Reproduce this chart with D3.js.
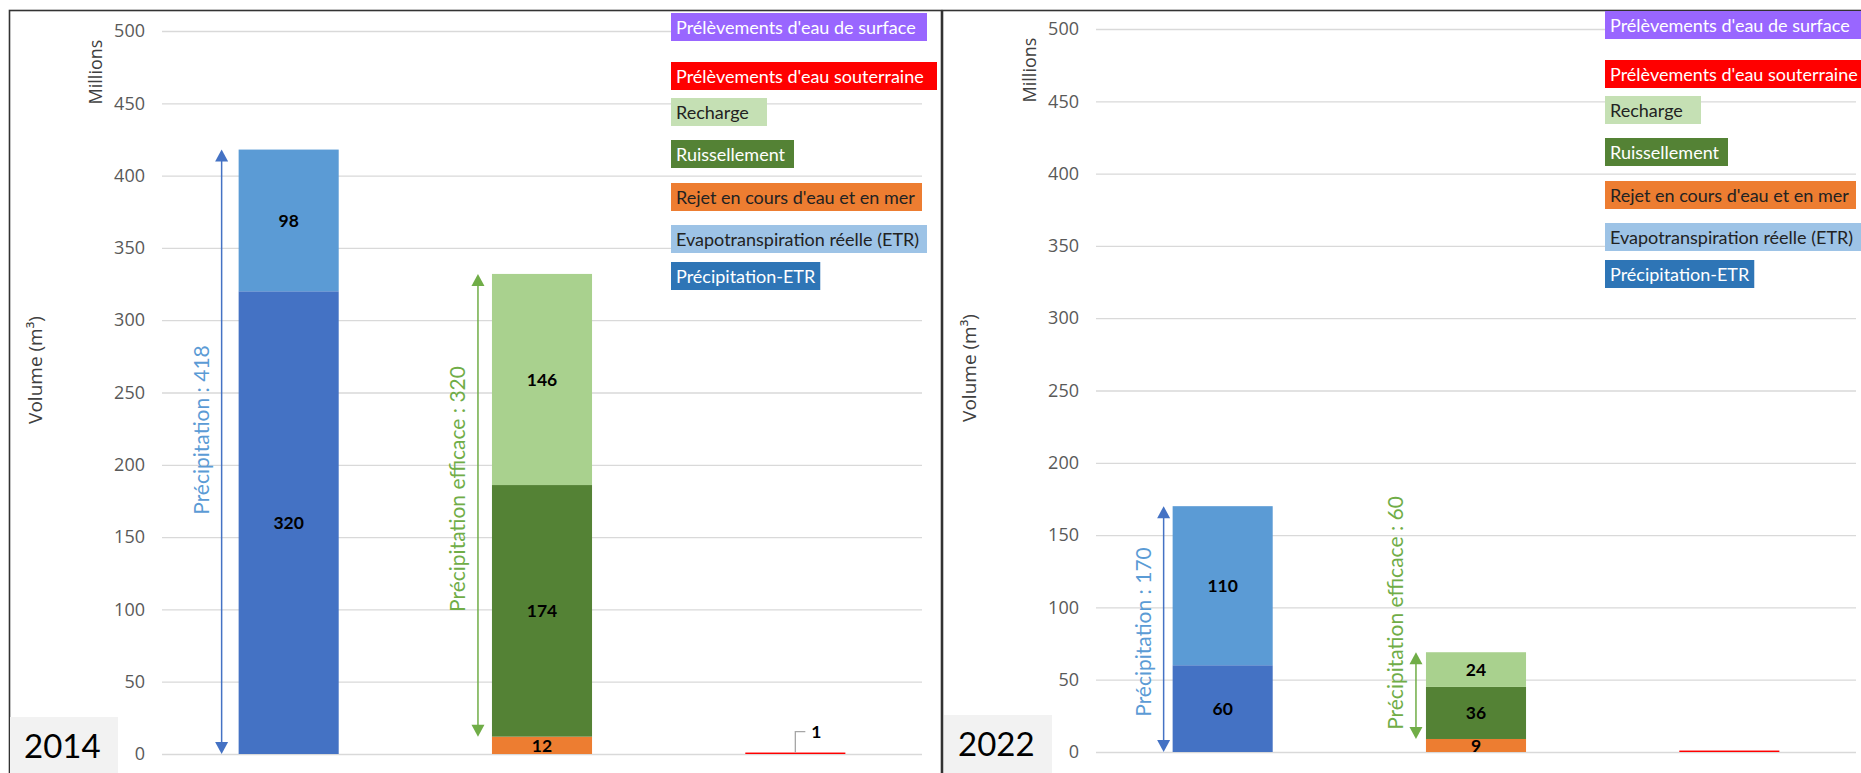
<!DOCTYPE html>
<html>
<head>
<meta charset="utf-8">
<script src="https://cdn.jsdelivr.net/npm/d3@7"></script>
<style>
  body { margin: 0; background: #fff; }
</style>
</head>
<body>
<script>
// Bilan hydrique 2014 / 2022 - two panels side by side

var width = 1861;
var height = 773;

// data (millions de m3)
var categories = ["Précipitation", "Précipitation efficace", "Prélèvements"];
var years = ["2014", "2022"];
var precipEtr = [320, 60];          // Précipitation-ETR
var etr = [98, 110];                // Evapotranspiration réelle
var rejet = [12, 9];                // Rejet en cours d'eau et en mer
var ruissellement = [174, 36];
var recharge = [146, 24];
var prelevSouterraine = [1, 1];
var prelevSurface = [0, 0];
var precipTotal = [418, 170];
var precipEfficace = [320, 60];
var souterraineLabelled = [true, false];
var yTicks = [0, 50, 100, 150, 200, 250, 300, 350, 400, 450, 500];

var legendLabels = ["Prélèvements d'eau de surface", "Prélèvements d'eau souterraine", "Recharge",
  "Ruissellement", "Rejet en cours d'eau et en mer", "Evapotranspiration réelle (ETR)", "Précipitation-ETR"];
var legendColors = ["#9966ff", "#ff0000", "#c5e0b4", "#548235", "#ed7d31", "#9dc3e6", "#2e75b6"];
var legendTextColors = ["#fff", "#fff", "#222", "#fff", "#222", "#222", "#fff"];
var legendY = [13, 62, 98, 140, 183, 225, 262];
var legendW = [256, 266, 96, 123, 251, 256, 137];

// per panel layout
var panels = [
  {dx: 0, dy: 0, gapPrecip: 17, gapEff: 14, precipLabelY: 430, effLabelY: 489},
  {dx: 934, dy: -2, gapPrecip: 9, gapEff: 10, precipLabelY: 634, effLabelY: 615}
];

var svg = d3.select("body").append("svg")
  .attr("width", width)
  .attr("height", height);

var yScale = d3.scaleLinear().domain([0, 500]).range([754, 31]);
var xScale = d3.scaleBand().domain(categories).range([162, 922])
  .paddingInner(0.605).paddingOuter(0.3025);
var bw = xScale.bandwidth();

// panel frames
svg.append("rect").attr("x", 9.5).attr("y", 10.5).attr("width", 932).attr("height", 800)
  .attr("fill", "none").attr("stroke", "#333").attr("stroke-width", 1.6);
svg.append("rect").attr("x", 942.5).attr("y", 10.5).attr("width", 960).attr("height", 800)
  .attr("fill", "none").attr("stroke", "#333").attr("stroke-width", 1.6);

function arrow(g, x, yTop, yBot, color) {
  g.append("line").attr("x1", x).attr("x2", x).attr("y1", yTop + 8).attr("y2", yBot - 8)
    .attr("stroke", color).attr("stroke-width", 1.5);
  g.append("path").attr("d", "M" + x + "," + yTop + "L" + (x - 6.5) + "," + (yTop + 12) + "L" + (x + 6.5) + "," + (yTop + 12) + "Z")
    .attr("fill", color);
  g.append("path").attr("d", "M" + x + "," + yBot + "L" + (x - 6.5) + "," + (yBot - 12) + "L" + (x + 6.5) + "," + (yBot - 12) + "Z")
    .attr("fill", color);
}

function drawPanel(i) {
  var p = panels[i];
  var g = svg.append("g").attr("transform", "translate(" + p.dx + "," + p.dy + ")");

  // gridlines + tick labels
  g.append("g")
    .attr("transform", "translate(162,0)")
    .call(d3.axisLeft(yScale).tickValues(yTicks).tickSize(-760).tickPadding(17))
    .call(function(a) { a.select(".domain").remove(); })
    .call(function(a) { a.selectAll("line").attr("stroke", "#d9d9d9").attr("stroke-width", 1.3); })
    .call(function(a) {
      a.selectAll("text").attr("font-family", "'Open Sans', sans-serif")
        .attr("font-size", 18).attr("fill", "#595959");
    });

  g.append("text")
    .attr("transform", "translate(95,72) rotate(-90)")
    .attr("text-anchor", "middle").attr("dominant-baseline", "central")
    .attr("font-family", "'Open Sans', sans-serif").attr("font-size", 18).attr("fill", "#404040")
    .text("Millions");
  g.append("text")
    .attr("transform", "translate(35,370) rotate(-90)")
    .attr("text-anchor", "middle").attr("dominant-baseline", "central")
    .attr("font-family", "'Open Sans', sans-serif").attr("font-size", 19).attr("fill", "#404040")
    .text("Volume (m³)");

  // stacked bars
  var stacks = [
    [{v: precipEtr[i], fill: "#4472c4"}, {v: etr[i], fill: "#5b9bd5"}],
    [{v: rejet[i], fill: "#ed7d31"}, {v: ruissellement[i], fill: "#548235"}, {v: recharge[i], fill: "#a9d18e"}],
    [{v: prelevSouterraine[i], fill: "#ff0000"}, {v: prelevSurface[i], fill: "#9966ff"}]
  ];
  var segs = [];
  stacks.forEach(function(s, k) {
    var acc = 0;
    s.forEach(function(d) {
      segs.push({cat: categories[k], y0: acc, y1: acc + d.v, v: d.v, fill: d.fill, bar: k});
      acc += d.v;
    });
  });

  g.selectAll("rect.seg")
    .data(segs.filter(function(d) { return d.v > 0; }))
    .enter().append("rect")
    .attr("class", "seg")
    .attr("x", function(d) { return xScale(d.cat); })
    .attr("width", bw)
    .attr("y", function(d) { return yScale(d.y1); })
    .attr("height", function(d) { return yScale(d.y0) - yScale(d.y1); })
    .attr("fill", function(d) { return d.fill; });

  g.selectAll("text.val")
    .data(segs.filter(function(d) { return d.v >= 5; }))
    .enter().append("text")
    .attr("class", "val")
    .attr("x", function(d) { return xScale(d.cat) + bw / 2; })
    .attr("y", function(d) { return yScale((d.y0 + d.y1) / 2); })
    .attr("text-anchor", "middle").attr("dominant-baseline", "central")
    .attr("font-family", "Lato, sans-serif").attr("font-weight", "bold").attr("font-size", 17.5)
    .attr("fill", "#000")
    .text(function(d) { return d.v; });

  // leader label for the small groundwater withdrawal
  if (souterraineLabelled[i]) {
    var cx = xScale(categories[2]) + bw / 2;
    var ly = yScale(prelevSouterraine[i]);
    g.append("path")
      .attr("d", "M" + cx + "," + ly + "V" + (ly - 21) + "H" + (cx + 10))
      .attr("fill", "none").attr("stroke", "#a6a6a6").attr("stroke-width", 1.3);
    g.append("text")
      .attr("x", cx + 16).attr("y", ly - 21)
      .attr("dominant-baseline", "central")
      .attr("font-family", "Lato, sans-serif").attr("font-weight", "bold").attr("font-size", 17.5)
      .text(prelevSouterraine[i]);
  }

  // précipitation arrow
  var ax1 = xScale(categories[0]) - p.gapPrecip;
  arrow(g, ax1, yScale(precipTotal[i]), yScale(0), "#4472c4");
  g.append("text")
    .attr("transform", "translate(" + (ax1 - 21) + "," + p.precipLabelY + ") rotate(-90)")
    .attr("text-anchor", "middle").attr("dominant-baseline", "central")
    .attr("font-family", "Lato, sans-serif").attr("font-size", 21).attr("fill", "#5b9bd5")
    .text("Précipitation : " + precipTotal[i]);

  // précipitation efficace arrow
  var ax2 = xScale(categories[1]) - p.gapEff;
  arrow(g, ax2, yScale(rejet[i] + precipEfficace[i]), yScale(rejet[i]), "#70ad47");
  g.append("text")
    .attr("transform", "translate(" + (ax2 - 21) + "," + p.effLabelY + ") rotate(-90)")
    .attr("text-anchor", "middle").attr("dominant-baseline", "central")
    .attr("font-family", "Lato, sans-serif").attr("font-size", 21).attr("fill", "#70ad47")
    .text("Précipitation efficace : " + precipEfficace[i]);

  // legend text boxes
  var leg = g.selectAll("g.leg")
    .data(legendLabels)
    .enter().append("g")
    .attr("class", "leg")
    .attr("transform", function(d, k) { return "translate(671," + legendY[k] + ")"; });
  var boxes = leg.append("rect")
    .attr("height", 28)
    .attr("fill", function(d, k) { return legendColors[k]; });
  var labels = leg.append("text")
    .attr("x", 5).attr("y", 14)
    .attr("dominant-baseline", "central")
    .attr("font-family", "Lato, sans-serif").attr("font-size", 18)
    .attr("fill", function(d, k) { return legendTextColors[k]; })
    .text(function(d) { return d; });
  // widen a box if its text would spill over
  boxes.attr("width", function(d, k) {
    var tw = labels.nodes()[k].getComputedTextLength();
    return Math.max(legendW[k], tw + 10);
  });

  // year tag
  g.append("rect").attr("x", 10).attr("y", 717).attr("width", 108).attr("height", 70)
    .attr("fill", "#f2f2f2");
  g.append("text").attr("x", 24).attr("y", 758)
    .attr("font-family", "Lato, sans-serif").attr("font-size", 33).attr("fill", "#000")
    .text(years[i]);
}

drawPanel(0);
drawPanel(1);
</script>
</body>
</html>
